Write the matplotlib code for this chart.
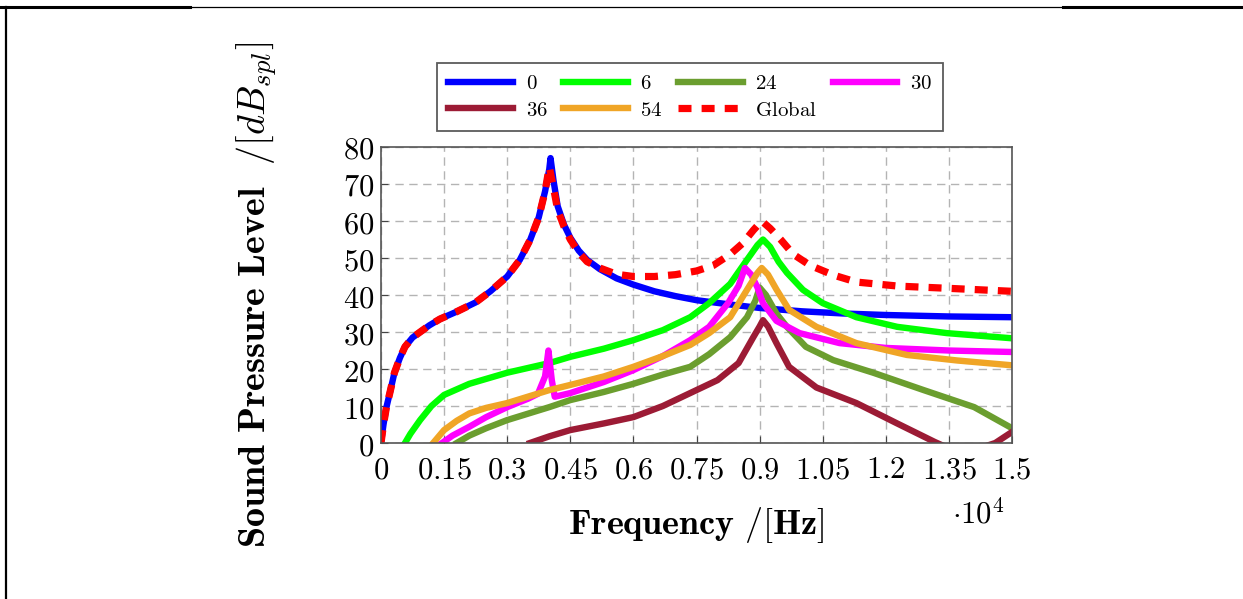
import numpy as np
import matplotlib
matplotlib.use("Agg")
from matplotlib import pyplot as plt
from matplotlib.lines import Line2D

plt.rcParams['mathtext.fontset'] = 'cm'
plt.rcParams['font.family'] = 'serif'
plt.rcParams['font.serif'] = ['DejaVu Serif']

# frequencies in Hz, levels in dB
f_0 = [0, 60, 130, 220, 320, 450, 570, 750, 930, 1150, 1400, 1800, 2250,
       2600, 3000, 3300, 3550, 3750, 3900, 4000, 4030, 4100, 4200, 4350,
       4500, 4700, 4900, 5200, 5600, 6000, 6500, 7000, 7500, 8250, 9000,
       10000, 11000, 12000, 13500, 15000]
spl_0 = [0, 5, 9.7, 14, 19, 23, 26, 28.5, 30, 31.8, 33.5, 35.5, 38,
         41, 45, 49.5, 55, 61, 68, 74, 77, 71, 64, 59,
         55.5, 52, 49.5, 47, 44.5, 42.8, 41, 39.7, 38.6, 37.5, 36.5,
         35.6, 35, 34.6, 34.2, 34]

f_6 = [570, 700, 930, 1200, 1500, 2100, 3000, 4000, 4500, 5300, 6000, 6700,
       7350, 7800, 8300, 8700, 8950, 9080, 9250, 9450, 9650, 10030, 10500,
       11300, 12270, 13450, 15000]
spl_6 = [0, 2.5, 6.2, 10, 13, 16, 19, 21.6, 23.3, 25.5, 27.8, 30.5,
         34, 37.8, 43, 49.5, 53.5, 55, 53, 49, 46, 41.4, 37.8,
         34, 31.4, 29.7, 28.3]

f_24 = [1800, 2100, 2500, 3000, 4000, 4500, 5300, 6000, 6700, 7350, 7800,
        8300, 8700, 8900, 9000, 9150, 9400, 9650, 10100, 10750, 11700, 12900,
        14100, 15000]
spl_24 = [0, 2, 4, 6.2, 9.7, 11.6, 13.8, 16, 18.5, 20.6, 24,
          28.6, 34, 38.5, 42, 40, 35, 31.4, 26, 22.4, 19, 14.3,
          9.7, 4]

f_30 = [1450, 1700, 2100, 2500, 3000, 3500, 3730, 3900, 3980, 4060, 4130,
        4500, 5300, 6000, 6700, 7350, 7800, 8250, 8500, 8650, 8800, 8950,
        9080, 9400, 9950, 10900, 12000, 13500, 15000]
spl_30 = [0, 2, 4.4, 7, 9.7, 12, 13.3, 18, 25, 17, 12.5,
          13.5, 16.5, 19.7, 23.5, 27.8, 31.4, 37.8, 42.5, 47.3, 45.5, 42,
          37.8, 33, 29.7, 27, 25.7, 25, 24.6]

f_36 = [3540, 4000, 4500, 5300, 6000, 6700, 7350, 8000, 8500, 8850, 9000,
        9080, 9200, 9400, 9700, 10350, 11300, 12250, 13160, 13800, 14600,
        15000]
spl_36 = [0, 1.8, 3.5, 5.3, 7, 10, 13.5, 17, 21.6, 28.6, 31.5,
          33.2, 31.5, 27, 20.6, 15, 10.8, 5.4, 0.3, -3, 0, 3]

f_54 = [1240, 1500, 1800, 2100, 2500, 3000, 4000, 4500, 5300, 6000, 6700,
        7350, 7800, 8300, 8700, 8950, 9050, 9200, 9400, 9700, 10350, 11300,
        12500, 13700, 15000]
spl_54 = [0, 3.5, 6, 8, 9.5, 10.8, 14.3, 15.7, 18, 20.6, 23.5,
          26.5, 29.7, 34, 41.4, 46, 47.3, 45.5, 41.5, 36, 31.4, 27,
          23.8, 22.3, 21]

f_glob = [0, 60, 130, 220, 320, 450, 570, 750, 930, 1150, 1400, 1800, 2250,
          2600, 3000, 3300, 3550, 3750, 3900, 4000, 4100, 4200, 4350, 4500,
          4700, 4900, 5200, 5600, 6000, 6500, 7000, 7500, 7900, 8300, 8600,
          8850, 9050, 9250, 9500, 9800, 10200, 10750, 11300, 12300, 13500,
          15000]
spl_glob = [0, 5, 9.7, 14, 19, 23, 26, 28.5, 30, 31.8, 33.5, 35.5, 38,
            41, 45, 49.5, 55, 61, 68, 74.6, 69, 63, 58.5, 55,
            51.5, 49, 47.3, 45.6, 45, 45, 45.5, 46.5, 48, 51, 54,
            57.5, 60, 58, 55, 51, 48, 45.4, 43.5, 42.4, 41.8,
            41]

x_ticks = [0, 1500, 3000, 4500, 6000, 7500, 9000, 10500, 12000, 13500, 15000]
x_labels = ['0', '0.15', '0.3', '0.45', '0.6', '0.75', '0.9', '1.05', '1.2',
            '1.35', '1.5']
y_ticks = [0, 10, 20, 30, 40, 50, 60, 70, 80]

fig = plt.figure(figsize=(12.43, 5.99), dpi=100)
ax = fig.add_axes([0.3065, 0.2604, 0.8142 - 0.3065, 0.7546 - 0.2604])

lw = 4.6
h0, = ax.plot(f_0, spl_0, color='#0000ff', lw=lw, label='$0$')
h6, = ax.plot(f_6, spl_6, color='#00ff00', lw=lw, label='$6$')
h24, = ax.plot(f_24, spl_24, color='#6b9e2f', lw=lw, label='$24$')
h30, = ax.plot(f_30, spl_30, color='#ff00ff', lw=lw, label='$30$')
h36, = ax.plot(f_36, spl_36, color='#9c1b35', lw=lw, label='$36$')
h54, = ax.plot(f_54, spl_54, color='#f0a526', lw=lw, label='$54$')
hg, = ax.plot(f_glob, spl_glob, color='#ff0000', lw=5.2, ls=(0, (1.8, 1.4)),
              label=r'$\mathrm{Global}$')

ax.set_xlim(0, 15000)
ax.set_ylim(0, 80)
ax.set_xticks(x_ticks)
ax.set_xticklabels(['$%s$' % s for s in x_labels])
ax.set_yticks(y_ticks)
ax.set_yticklabels(['$%d$' % v for v in y_ticks])
ax.tick_params(direction='in', labelsize=22, length=5, color='#444444', pad=5)
ax.tick_params(axis='x', pad=8)
ax.grid(True, color='#b4b4b4', ls=(0, (6, 4)), lw=1)
for s in ax.spines.values():
    s.set_color('#555555')
    s.set_linewidth(1.2)

ax.set_xlabel(r'$\mathbf{Frequency\ /[Hz]}$', fontsize=26, labelpad=14)
ax.set_ylabel(r'$\mathbf{Sound\ Pressure\ Level\ \ /[}dB_{spl}\mathbf{]}$',
              fontsize=27.5, labelpad=46)
fig.text(0.787, 0.14, r'$\cdot 10^4$', fontsize=22, ha='center', va='center')

# column-first fill, so reorder to get rows 0 6 24 30 / 36 54 Global
handles = [h0, h36, h6, h54, h24, hg, h30]
leg = fig.legend(handles=handles, labels=[h.get_label() for h in handles],
                 ncol=4, loc='upper left', bbox_to_anchor=(437 / 1243, 1 - 63 / 599),
                 borderaxespad=0, fontsize=15, frameon=True, fancybox=False,
                 edgecolor='#333333', handlelength=3.1, columnspacing=0.75,
                 handletextpad=0.6, borderpad=0.55, labelspacing=0.35)
leg.get_frame().set_linewidth(1.3)

# page border
fig.add_artist(Line2D([0.0, 0.153], [0.988, 0.988], color='black', lw=2.2,
                      transform=fig.transFigure))
fig.add_artist(Line2D([0.153, 0.855], [0.988, 0.988], color='black', lw=0.9,
                      transform=fig.transFigure))
fig.add_artist(Line2D([0.855, 1.0], [0.988, 0.988], color='black', lw=2.2,
                      transform=fig.transFigure))
fig.add_artist(Line2D([0.005, 0.005], [0.0, 0.988], color='black', lw=1.6,
                      transform=fig.transFigure))

fig.savefig('out.png', dpi=100)
